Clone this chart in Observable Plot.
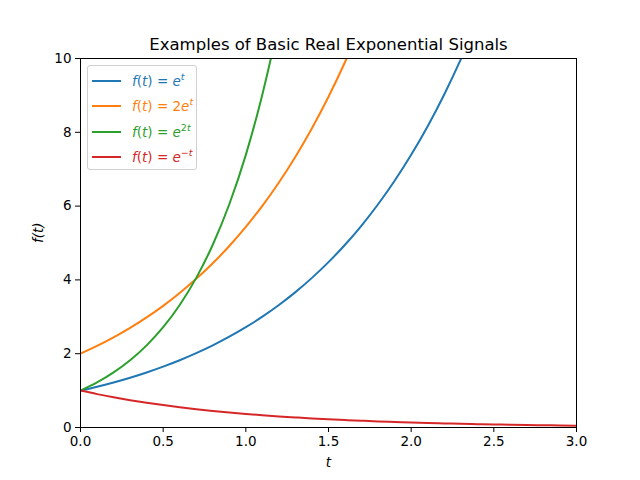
<!DOCTYPE html>
<html><head><meta charset="utf-8">
<script src="https://cdn.jsdelivr.net/npm/d3@7"></script>
<script src="https://cdn.jsdelivr.net/npm/@observablehq/plot@0.6"></script>
<style>
body{margin:0;background:#fff;font-family:"DejaVu Sans",sans-serif;}
#wrap{position:relative;width:640px;height:480px;}
#legend{position:absolute;left:87px;top:65px;width:110px;height:105px;border:1px solid #d0d0d0;border-radius:3px;background:rgba(255,255,255,0.8);box-sizing:border-box;}
.row{position:absolute;left:0;height:20px;font-size:13.5px;}
.row .sw{position:absolute;left:4px;top:9px;width:29px;height:2px;}
.row .lb{position:absolute;left:44px;top:0;white-space:nowrap;line-height:20px;}
sup{font-size:9.5px;vertical-align:6px;line-height:0;}
</style></head>
<body><div id="wrap"></div>
<script>
const t = [0,0.1,0.2,0.3,0.4,0.5,0.6,0.7,0.8,0.9,1.0,1.1,1.2,1.3,1.4,1.5,1.6,1.7,1.8,1.9,2.0,2.1,2.2,2.3,2.4,2.5,2.6,2.7,2.8,2.9,3.0];
const expT = [1.000,1.105,1.221,1.350,1.492,1.649,1.822,2.014,2.226,2.460,2.718,3.004,3.320,3.669,4.055,4.482,4.953,5.474,6.050,6.686,7.389,8.166,9.025,9.974,11.02,12.18,13.46,14.88,16.44,18.17,20.09];
const twoExpT = [2.000,2.210,2.443,2.700,2.984,3.297,3.644,4.028,4.451,4.919,5.437,6.008,6.640,7.339,8.110,8.963,9.906,10.95,12.10,13.37,14.78,16.33,18.05,19.95,22.05,24.36,26.93,29.76,32.89,36.35,40.17];
const exp2T = [1.000,1.221,1.492,1.822,2.226,2.718,3.320,4.055,4.953,6.050,7.389,9.025,11.02,13.46,16.44,20.09,24.53,29.96,36.60,44.70,54.60,66.69,81.45,99.48,121.5,148.4,181.3,221.4,270.4,330.3,403.4];
const expNegT = [1.000,0.905,0.819,0.741,0.670,0.607,0.549,0.497,0.449,0.407,0.368,0.333,0.301,0.273,0.247,0.223,0.202,0.183,0.165,0.150,0.135,0.122,0.111,0.100,0.091,0.082,0.074,0.067,0.061,0.055,0.050];
const seriesNames = ["e^t","2e^t","e^2t","e^-t"];
const seriesValues = [expT, twoExpT, exp2T, expNegT];
const colors = ["#1f77b4","#ff7f0e","#2ca02c","#d62728"];
const legendHtml = [
  '<i>f</i>(<i>t</i>) = <i>e</i><sup><i>t</i></sup>',
  '<i>f</i>(<i>t</i>) = 2<i>e</i><sup><i>t</i></sup>',
  '<i>f</i>(<i>t</i>) = <i>e</i><sup>2<i>t</i></sup>',
  '<i>f</i>(<i>t</i>) = <i>e</i><sup>\u2212<i>t</i></sup>'
];
const xTicks = [0,0.5,1.0,1.5,2.0,2.5,3.0];
const yTicks = [0,2,4,6,8,10];

const rows = [];
seriesNames.forEach((s,i)=>t.forEach((tv,j)=>rows.push({t:tv,v:seriesValues[i][j],s})));

const plot = Plot.plot({
  width:640, height:480,
  marginLeft:80, marginRight:64, marginTop:58, marginBottom:53,
  style:{fontFamily:"DejaVu Sans", fontSize:"13.5px", color:"#000", background:"#fff"},
  x:{domain:[0,3], ticks:xTicks, tickFormat:d3.format(".1f"), tickSize:5, tickPadding:4, label:null},
  y:{domain:[0,10], ticks:yTicks, tickFormat:d3.format("d"), tickSize:5, tickPadding:4, label:null},
  color:{domain:seriesNames, range:colors},
  marks:[
    Plot.line(rows,{x:"t",y:"v",z:"s",stroke:"s",strokeWidth:2,curve:"monotone-x",clip:true}),
    Plot.frame({stroke:"#000", strokeWidth:1}),
    Plot.axisX({ticks:xTicks, tickFormat:d3.format(".1f"), tickSize:5, tickPadding:4, label:null, fontSize:13.5}),
    Plot.axisY({ticks:yTicks, tickFormat:d3.format("d"), tickSize:5, tickPadding:4, label:null, fontSize:13.5}),
    Plot.text(["Examples of Basic Real Exponential Signals"],{frameAnchor:"top", lineAnchor:"middle", dy:-14, fontSize:16.5}),
    Plot.text(["t"],{frameAnchor:"bottom", lineAnchor:"middle", dy:35, fontSize:13.5, fontStyle:"italic"}),
    Plot.text(["f(t)"],{frameAnchor:"left", lineAnchor:"middle", dx:-42, rotate:-90, fontSize:13.5, fontStyle:"italic"})
  ]
});
const wrap = document.getElementById("wrap");
wrap.appendChild(plot);
const leg = document.createElement("div");
leg.id = "legend";
legendHtml.forEach((h,i)=>{
  const r = document.createElement("div");
  r.className="row";
  r.style.top = (5 + i*25.3) + "px";
  r.style.color = colors[i];
  r.innerHTML = '<div class="sw" style="background:'+colors[i]+'"></div><div class="lb">'+h+'</div>';
  leg.appendChild(r);
});
wrap.appendChild(leg);
</script></body></html>
